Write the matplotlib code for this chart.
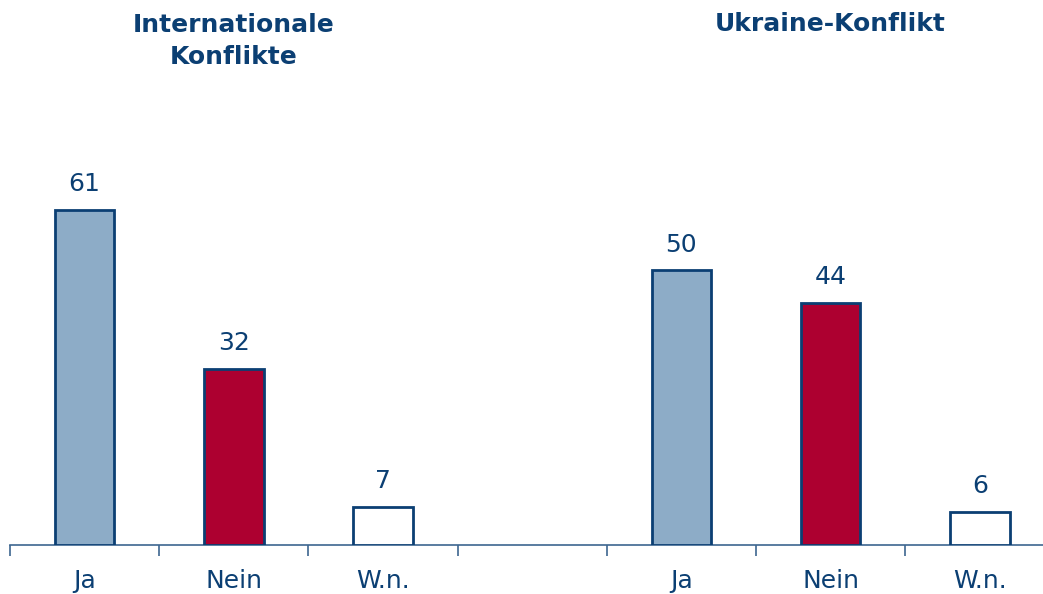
import matplotlib
matplotlib.use("Agg")
import matplotlib.pyplot as plt
import numpy as np

plt.rcParams['font.family'] = ['DejaVu Sans']

groups = ["Internationale\nKonflikte", "Ukraine-Konflikt"]
categories = ["Ja", "Nein", "W.n."]
values_international = [61, 32, 7]
values_ukraine = [50, 44, 6]
bar_colors = ["#8dacc7", "#ad0030", "#ffffff"]

dark = "#0b3f73"
axis_col = "#3d6690"

W, H = 1043, 594
fig = plt.figure(figsize=(W / 100, H / 100), dpi=100)
px_per_slot = 149.2
left_px, base_px = 10, 545
ax = fig.add_axes([left_px / W, (H - base_px) / H, (W - left_px) / W, base_px / H])

scale = 335 / 61.0  # px per unit
ax.set_ylim(0, base_px / scale)
ax.set_xlim(-0.5, -0.5 + (W - left_px) / px_per_slot)

pos_int = np.arange(3)
pos_ukr = np.arange(3) + 4
for pos, vals in ((pos_int, values_international), (pos_ukr, values_ukraine)):
    ax.bar(pos, vals, width=0.40, color=bar_colors, edgecolor=dark,
           linewidth=2.0, zorder=3)
    for p, v in zip(pos, vals):
        ax.annotate(str(v), (p, v), xytext=(0, 10), textcoords="offset points",
                    ha="center", va="bottom", fontsize=18, color=dark)

ax.set_xticks(list(pos_int) + list(pos_ukr))
ax.set_xticklabels(categories + categories, fontsize=18, color=dark)
ax.tick_params(axis="x", which="major", length=0, pad=17)
ax.set_xticks(np.arange(-0.5, 6.0, 1.0), minor=True)
ax.tick_params(axis="x", which="minor", length=8, width=1.2, color=axis_col)

for s in ("top", "right", "left"):
    ax.spines[s].set_visible(False)
ax.spines["bottom"].set_color(axis_col)
ax.spines["bottom"].set_linewidth(1.2)
ax.set_yticks([])
ax.patch.set_visible(False)

fig.text((left_px + 1.5 * px_per_slot) / W, 1 - 41 / H, groups[0], ha="center",
         va="center", fontsize=18, fontweight="bold", color=dark, linespacing=1.4)
fig.text((left_px + 5.5 * px_per_slot) / W, 1 - 24 / H, groups[1], ha="center",
         va="center", fontsize=18, fontweight="bold", color=dark)

fig.savefig("out.png", dpi=100)
